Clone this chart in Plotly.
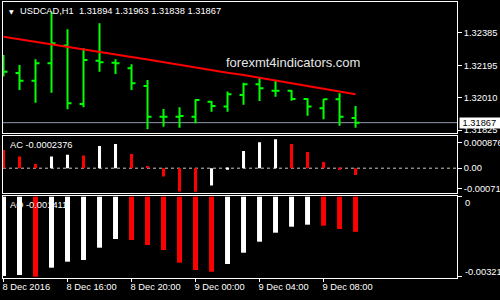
import plotly.graph_objects as go

# ---------------- data ----------------
BAR_TIMES = ["8 Dec 12:00", "8 Dec 13:00", "8 Dec 14:00", "8 Dec 15:00", "8 Dec 16:00",
             "8 Dec 17:00", "8 Dec 18:00", "8 Dec 19:00", "8 Dec 20:00", "8 Dec 21:00",
             "8 Dec 22:00", "8 Dec 23:00", "9 Dec 00:00", "9 Dec 01:00", "9 Dec 02:00",
             "9 Dec 03:00", "9 Dec 04:00", "9 Dec 05:00", "9 Dec 06:00", "9 Dec 07:00",
             "9 Dec 08:00", "9 Dec 09:00", "9 Dec 10:00"]

OPEN = [1.32200, 1.32152, 1.32108, 1.32207, 1.32309, 1.31974, 1.32222, 1.32211, 1.32179, 1.32077,
        1.31901, 1.31901, 1.31901, 1.31987, 1.31959, 1.32026, 1.32087, 1.32050, 1.32050, 1.32003,
        1.31949, 1.32001, 1.31894]
HIGH = [1.32255, 1.32198, 1.32230, 1.32503, 1.32402, 1.32293, 1.32437, 1.32230, 1.32202, 1.32112,
        1.31945, 1.31955, 1.32001, 1.31991, 1.32045, 1.32096, 1.32126, 1.32106, 1.32054, 1.32007,
        1.32003, 1.32035, 1.31963]
LOW = [1.32131, 1.32054, 1.31981, 1.32039, 1.31944, 1.31955, 1.32159, 1.32146, 1.32054, 1.31829,
       1.31844, 1.31838, 1.31863, 1.31930, 1.31930, 1.31970, 1.31991, 1.32016, 1.31993, 1.31907,
       1.31886, 1.31850, 1.31838]
CLOSE = [1.32159, 1.32108, 1.32207, 1.32322, 1.31978, 1.32226, 1.32213, 1.32207, 1.32093, 1.31901,
         1.31901, 1.31905, 1.31997, 1.31963, 1.32030, 1.32087, 1.32064, 1.32050, 1.32003, 1.31959,
         1.32001, 1.31901, 1.31867]
MA = [1.32360, 1.32346, 1.32332, 1.32318, 1.32303, 1.32287, 1.32272, 1.32258, 1.32244, 1.32229,
      1.32213, 1.32197, 1.32181, 1.32166, 1.32153, 1.32140, 1.32125, 1.32110, 1.32094, 1.32078,
      1.32062, 1.32046, 1.32030]

AC = [0.000635, 0.000406, 0.000149, 0.000406, 0.000468, 0.000441, 0.000774, 0.000843, 0.000496,
      0.000080, -0.000288, -0.000808, -0.000815, -0.000600, -0.000050, 0.000600, 0.000902,
      0.001006, 0.000843, 0.000565, 0.000219, -0.000059, -0.0002376]
AO = [-0.003185, -0.003145, -0.003213, -0.002851, -0.002610, -0.002542, -0.002048, -0.001699,
      -0.001739, -0.001940, -0.002141, -0.002651, -0.002944, -0.003012, -0.002703, -0.002249,
      -0.001807, -0.001446, -0.001205, -0.001124, -0.001165, -0.001297, -0.001411]

TICK_IDX = [0, 4, 8, 12, 16, 20]
TICK_TEXT = ["8 Dec 2016", "8 Dec 16:00", "8 Dec 20:00", "9 Dec 00:00", "9 Dec 04:00", "9 Dec 08:00"]
PRICE_TICKS = [1.32385, 1.32195, 1.32010, 1.31825]
AC_TICKS = [0.000876, 0.0, -0.000713]
AC_TICK_TEXT = ["0.000876", "0.00", "-0.000713"]
AO_LABELS = ["0", "-0.003213"]

SYMBOL = "USDCAD,H1"
AC_LABEL = "AC -0.0002376"
AO_LABEL = "AO -0.001411"
WATERMARK = "forexmt4indicators.com"

# ---------------- styling ----------------
GREEN = "#00ff00"
RED = "#ff0000"
WHITE = "#ffffff"
FONT = "Liberation Sans, Arial, sans-serif"
FS = 9.3

x = list(range(len(CLOSE)))
ac_colors = [RED] + [RED if AC[i] < AC[i - 1] else WHITE for i in range(1, len(AC))]
ao_colors = [WHITE] + [RED if AO[i] < AO[i - 1] else WHITE for i in range(1, len(AO))]

fig = go.Figure()
fig.add_trace(go.Ohlc(x=x, open=OPEN, high=HIGH, low=LOW, close=CLOSE, xaxis="x", yaxis="y",
                      increasing=dict(line=dict(color=GREEN, width=2)),
                      decreasing=dict(line=dict(color=GREEN, width=2)),
                      tickwidth=0.25, showlegend=False, hoverinfo="skip"))
fig.add_trace(go.Scatter(x=x, y=MA, mode="lines", line=dict(color=RED, width=2),
                         xaxis="x", yaxis="y", showlegend=False, hoverinfo="skip"))
fig.add_trace(go.Bar(x=x, y=AC, marker=dict(color=ac_colors, line=dict(width=0)), width=0.19,
                     xaxis="x2", yaxis="y2", showlegend=False, hoverinfo="skip"))
fig.add_trace(go.Bar(x=x, y=AO, marker=dict(color=ao_colors, line=dict(width=0)), width=0.31,
                     xaxis="x3", yaxis="y3", showlegend=False, hoverinfo="skip"))

XR = [-0.031, 28.34]
common = dict(showgrid=False, zeroline=False, showline=True, linecolor=WHITE, linewidth=1,
              mirror=True, fixedrange=True, automargin=False)
tfont = dict(family=FONT, size=FS, color=WHITE)

fig.update_layout(
    width=500, height=300,
    margin=dict(l=3, r=43, t=2, b=22, autoexpand=False),
    paper_bgcolor="black", plot_bgcolor="black",
    showlegend=False,
    font=dict(family=FONT, size=FS, color=WHITE),
    xaxis=dict(domain=[0, 1], range=XR, anchor="y", showticklabels=False, ticks="",
               rangeslider=dict(visible=False), **common),
    xaxis2=dict(domain=[0, 1], range=XR, anchor="y2", showticklabels=False, ticks="", **common),
    xaxis3=dict(domain=[0, 1], range=XR, anchor="y3", tickmode="array", tickvals=TICK_IDX,
                ticktext=TICK_TEXT, ticks="outside", ticklen=3, tickcolor=WHITE,
                ticklabelposition="outside right", ticklabelshift=-2, tickfont=tfont, **common),
    yaxis=dict(domain=[0.52536, 1], range=[1.318078, 1.325587], anchor="x", side="right",
               tickmode="array", tickvals=PRICE_TICKS, ticktext=[f"{v:.5f}" for v in PRICE_TICKS],
               ticks="outside", ticklen=4, tickcolor=WHITE, tickfont=tfont, **common),
    yaxis2=dict(domain=[0.30616, 0.51630], range=[-0.000878, 0.001134], anchor="x2", side="right",
                tickmode="array", tickvals=AC_TICKS, ticktext=AC_TICK_TEXT,
                ticks="outside", ticklen=4, tickcolor=WHITE, tickfont=tfont, **common),
    yaxis3=dict(domain=[0, 0.29710], range=[-0.003265, 0.000028], anchor="x3", side="right",
                tickmode="array", tickvals=[0, min(AO)], showticklabels=False,
                ticks="outside", ticklen=4, tickcolor=WHITE, **common),
)

# current price line and zero line of AC
fig.add_shape(type="line", xref="x domain", yref="y", x0=0, x1=1, y0=CLOSE[-1], y1=CLOSE[-1],
              line=dict(color="#8c9aaa", width=1), layer="below")
fig.add_shape(type="line", xref="x2 domain", yref="y2", x0=0, x1=1, y0=0, y1=0,
              line=dict(color="#c8c8c8", width=1, dash="3px,3px"), layer="below")

ann = []
# header
ann.append(dict(xref="paper", yref="paper", x=0, y=1, xshift=4, yshift=-9, xanchor="left",
                yanchor="middle", text="▼", font=dict(family="DejaVu Sans", size=6, color=WHITE),
                showarrow=False))
header = SYMBOL + "\u00a0\u00a0" + " ".join(f"{v:.5f}" for v in (OPEN[-1], HIGH[-1], LOW[-1], CLOSE[-1]))
ann.append(dict(xref="paper", yref="paper", x=0, y=1, xshift=15, yshift=-8.7, xanchor="left",
                yanchor="middle", text=header, font=tfont, showarrow=False))
# watermark
ann.append(dict(xref="paper", yref="paper", x=0, y=1, xshift=221, yshift=-60.7, xanchor="left",
                yanchor="middle", text=WATERMARK, font=dict(family=FONT, size=13, color="#e6e6e6"),
                showarrow=False))
# indicator labels
ann.append(dict(xref="x2 domain", yref="y2 domain", x=0, y=1, xshift=5, yshift=-9.2,
                xanchor="left", yanchor="middle", text=AC_LABEL, font=tfont, showarrow=False))
ann.append(dict(xref="x3 domain", yref="y3 domain", x=0, y=1, xshift=5, yshift=-9,
                xanchor="left", yanchor="middle", text=AO_LABEL, font=tfont, showarrow=False))
# AO axis labels (kept inside the pane like the terminal does)
ann.append(dict(xref="x3 domain", yref="y3", x=1, y=0, xshift=6, yshift=-6.6,
                xanchor="left", yanchor="middle", text=AO_LABELS[0], font=tfont, showarrow=False))
ann.append(dict(xref="x3 domain", yref="y3", x=1, y=min(AO), xshift=6, yshift=5,
                xanchor="left", yanchor="middle", text=AO_LABELS[1], font=tfont, showarrow=False))
# current price box
ann.append(dict(xref="x domain", yref="y", x=1, y=CLOSE[-1], xshift=2, xanchor="left",
                yanchor="middle", text="\u00a0" + f"{CLOSE[-1]:.5f}", width=44, height=10,
                align="left", borderpad=0, bgcolor=WHITE,
                font=dict(family=FONT, size=FS, color="black"), showarrow=False))
fig.update_layout(annotations=ann)

fig.write_html("out.html")
